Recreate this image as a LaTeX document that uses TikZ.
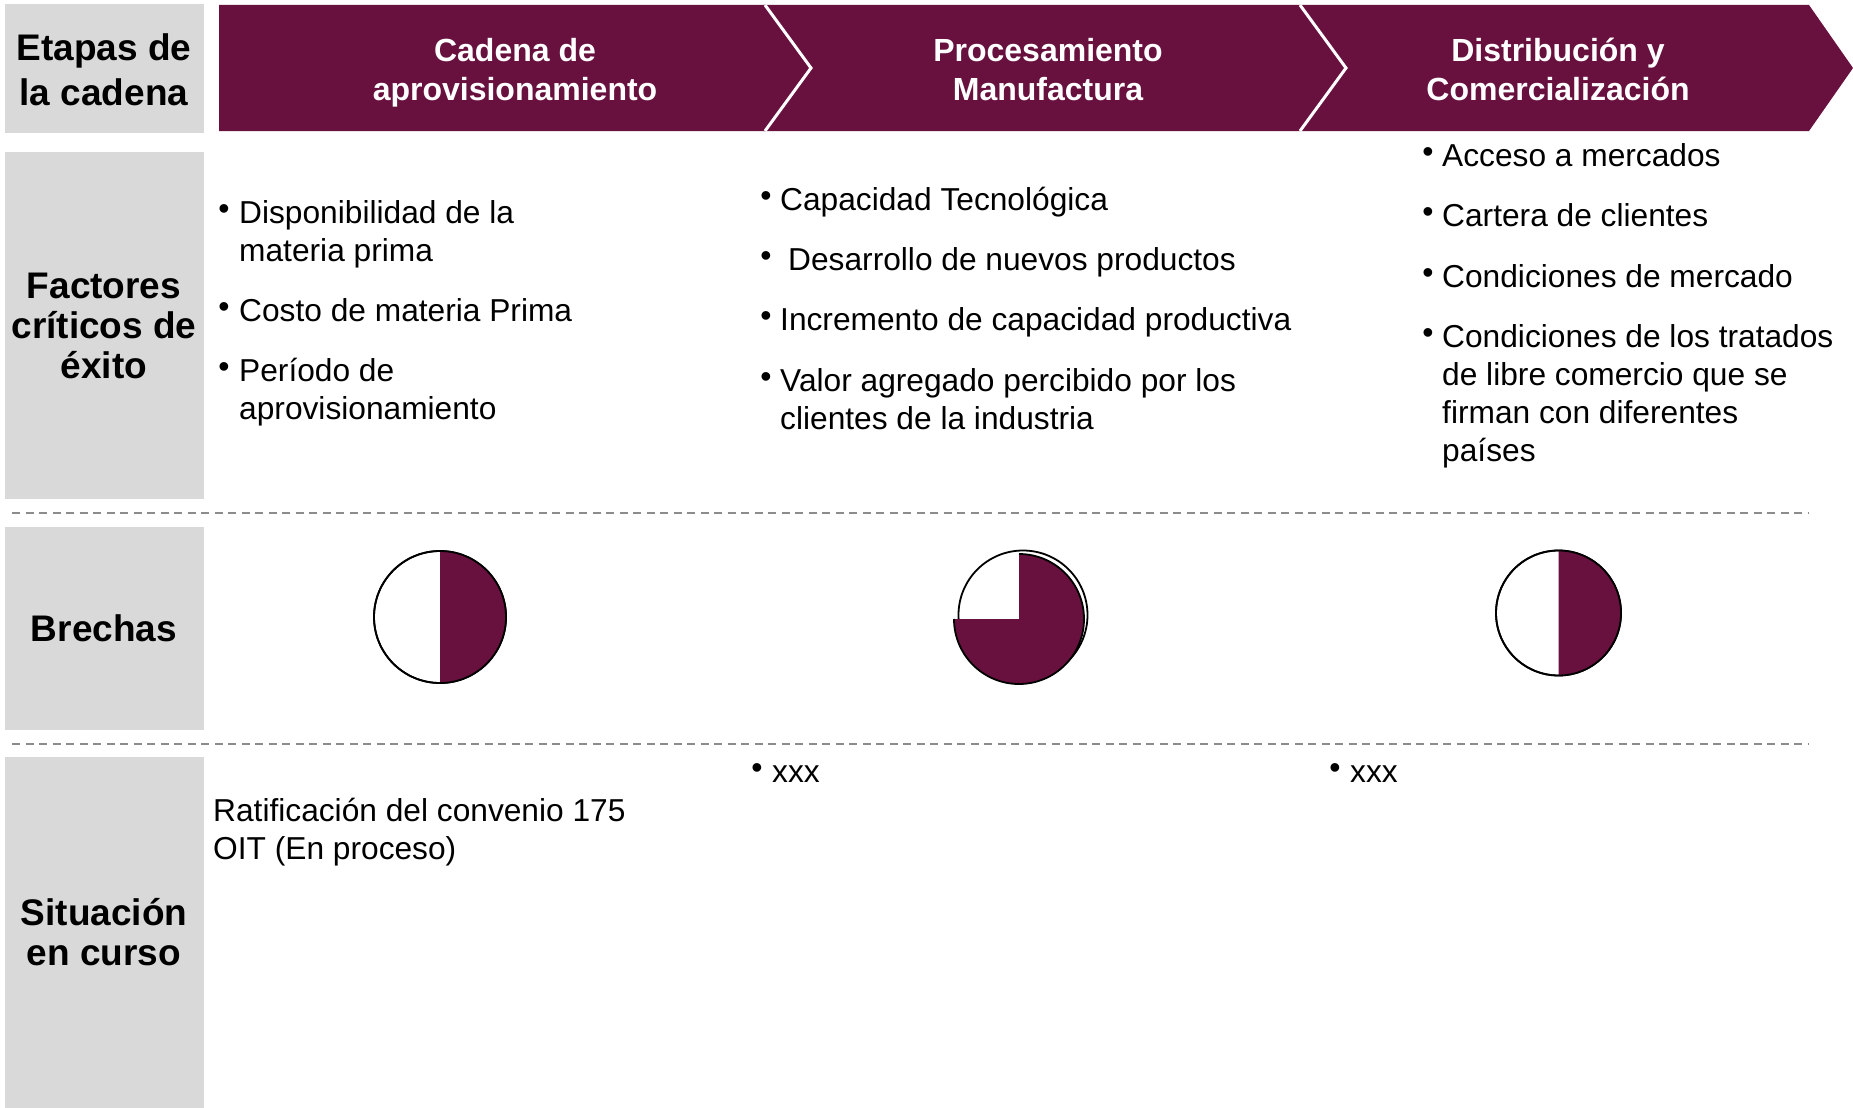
\documentclass[tikz,border=0pt]{standalone}
\usepackage{fontspec}
\setmainfont{Liberation Sans}
\definecolor{maroon}{HTML}{68113E}
\definecolor{panel}{HTML}{D9D9D9}
\definecolor{sepgray}{HTML}{8C8C8C}
\begin{document}
\begin{tikzpicture}[x=1pt,y=-1pt,
  stage/.style={font=\bfseries\fontsize{32}{39}\selectfont, text=white, align=center, anchor=base, inner sep=0},
  rowlabel/.style={font=\bfseries\fontsize{37}{40}\selectfont, align=center, anchor=base, inner sep=0},
  item/.style={font=\fontsize{31.7}{38}\selectfont, align=left, anchor=base west, inner sep=0},
  dot/.style={font=\fontsize{32}{38}\selectfont, anchor=base, inner sep=0, yshift=4pt},
  sepline/.style={draw=sepgray, line width=2pt, dash pattern=on 8pt off 5.5pt},
  pieline/.style={draw=black, line width=1.8pt},
  chev/.style={fill=maroon},
  notch/.style={draw=white, line width=3pt}]
\useasboundingbox (0,0) rectangle (1853,1108);
\fill[white] (0,0) rectangle (1853,1108);

% left panels
\fill[panel] (5,4) rectangle (204,133);
\fill[panel] (5,152) rectangle (204,499);
\fill[panel] (5,527) rectangle (204,730);
\fill[panel] (5,757) rectangle (204,1108);

% chevrons
\fill[chev] (219,5) -- (766,5) -- (812,68) -- (766,131) -- (219,131) -- cycle;
\fill[chev] (764,5) -- (1299,5) -- (1346,68) -- (1299,131) -- (764,131) -- (810,68) -- cycle;
\fill[chev] (1299,5) -- (1809,5) -- (1853,68) -- (1809,131) -- (1299,131) -- (1345,68) -- cycle;
\draw[notch] (765,5) -- (811,68) -- (765,131);
\draw[notch] (1300,5) -- (1346,68) -- (1300,131);

% separators
\coordinate (s1a) at (12,513); \coordinate (s1b) at (1808,513);
\coordinate (s2a) at (12,744); \coordinate (s2b) at (1808,744);
\draw[sepline] (s1a) -- (s1b);
\draw[sepline] (s2a) -- (s2b);

% stage headers (anchor base = last line)
\node[stage] (h1) at (515,100) {Cadena de\\aprovisionamiento};
\node[stage] (h2) at (1048,100) {Procesamiento\\Manufactura};
\node[stage] (h3) at (1558,100) {Distribución y\\Comercialización};

% row labels
\node[rowlabel, font=\bfseries\fontsize{37}{45}\selectfont] (l1) at (104,105) {Etapas de\\la cadena};
\node[rowlabel] (l2) at (104,378) {Factores\\críticos de\\éxito};
\node[rowlabel] (l3) at (104,641) {Brechas};
\node[rowlabel] (l4) at (104,965) {Situación\\en curso};

% column 1 factors
\node[dot] (b1a) at (224,223) {•};
\node[item] (t1a) at (239,261) {Disponibilidad de la\\materia prima};
\node[dot] (b1b) at (224,321) {•};
\node[item] (t1b) at (239,321) {Costo de materia Prima};
\node[dot] (b1c) at (224,381) {•};
\node[item] (t1c) at (239,419) {Período de\\aprovisionamiento};

% column 2 factors
\node[dot] (b2a) at (766,210) {•};
\node[item] (t2a) at (780,210) {Capacidad Tecnológica};
\node[dot] (b2b) at (766,270) {•};
\node[item] (t2b) at (788,270) {Desarrollo de nuevos productos};
\node[dot] (b2c) at (766,330) {•};
\node[item] (t2c) at (780,330) {Incremento de capacidad productiva};
\node[dot] (b2d) at (766,391) {•};
\node[item] (t2d) at (780,429) {Valor agregado percibido por los\\clientes de la industria};

% column 3 factors
\node[dot] (b3a) at (1428,166) {•};
\node[item] (t3a) at (1442,166) {Acceso a mercados};
\node[dot] (b3b) at (1428,226) {•};
\node[item] (t3b) at (1442,226) {Cartera de clientes};
\node[dot] (b3c) at (1428,287) {•};
\node[item] (t3c) at (1442,287) {Condiciones de mercado};
\node[dot] (b3d) at (1428,347) {•};
\node[item] (t3d) at (1442,461) {Condiciones de los tratados\\de libre comercio que se\\firman con diferentes\\países};

% pies
\filldraw[fill=white, pieline] (440,617) circle[radius=66];
\fill[maroon] (440,617) -- ++(0,-66) arc[start angle=-90, end angle=90, radius=66] -- cycle;
\draw[pieline] (440,617) circle[radius=66];

\filldraw[fill=white, pieline] (1023,615) circle[radius=64.5];
\fill[maroon] (1019,619) -- ++(0,-65) arc[start angle=-90, end angle=180, radius=65] -- cycle;
\draw[pieline] (1019,619) ++(0,-65) arc[start angle=-90, end angle=180, radius=65];

\filldraw[fill=white, pieline] (1558.5,613) circle[radius=62.5];
\fill[maroon] (1558.5,613) -- ++(0,-62.5) arc[start angle=-90, end angle=90, radius=62.5] -- cycle;
\draw[pieline] (1558.5,613) circle[radius=62.5];

% current situation
\node[item] (r1) at (213,859) {Ratificación del convenio 175\\OIT (En proceso)};
\node[dot] (bx1) at (757,782) {•};
\node[item] (x1) at (772,782) {xxx};
\node[dot] (bx2) at (1335,782) {•};
\node[item] (x2) at (1350,782) {xxx};
\end{tikzpicture}
\end{document}
